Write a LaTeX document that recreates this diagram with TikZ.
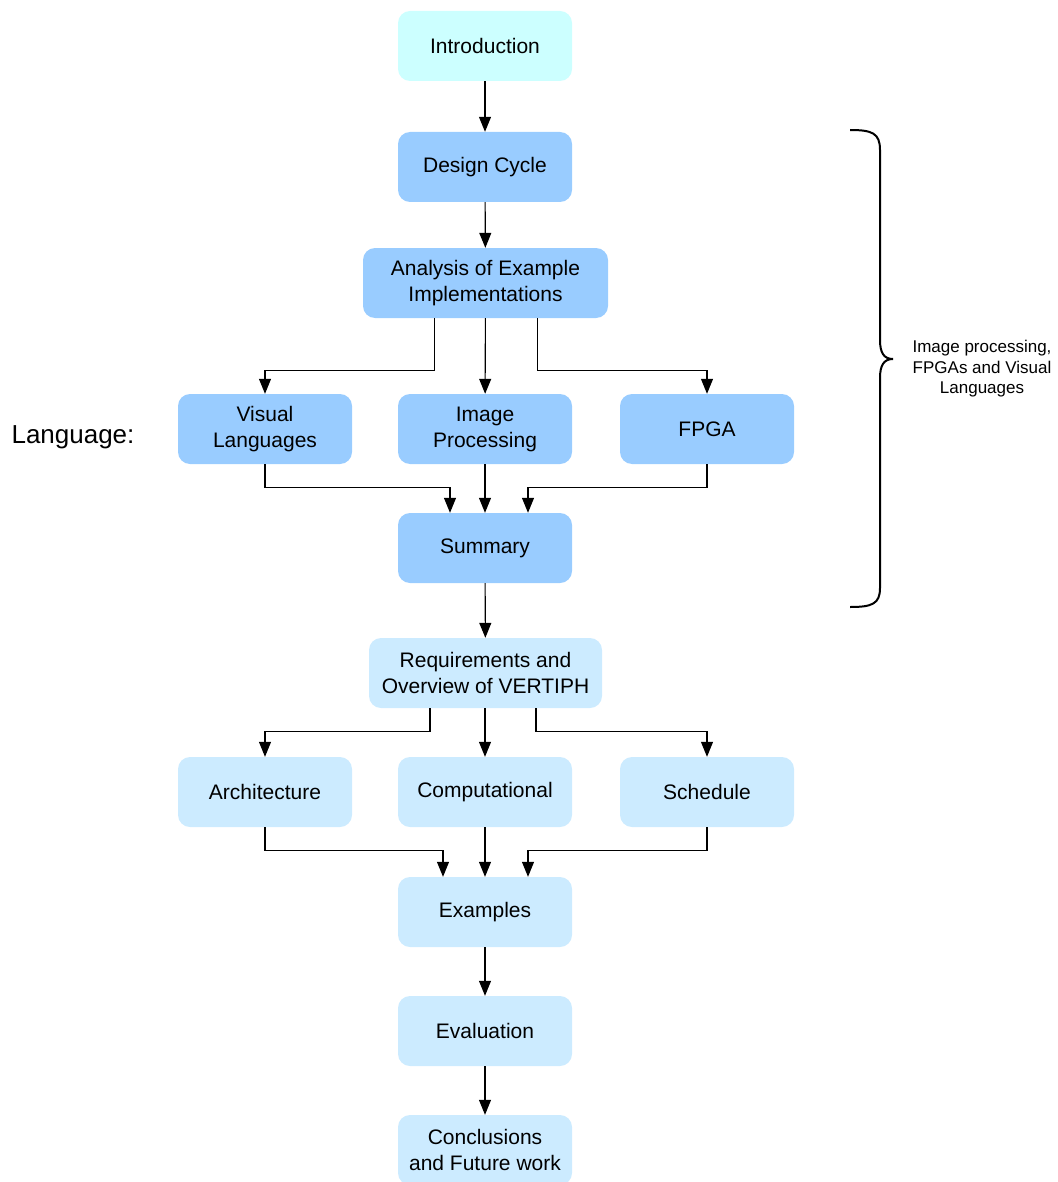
\documentclass[tikz,border=0pt]{standalone}
\usepackage{fontspec}
\setmainfont{Liberation Sans}
\usetikzlibrary{arrows.meta}
\definecolor{cIntro}{HTML}{CCFFFF}
\definecolor{cDark}{HTML}{99CCFF}
\definecolor{cLight}{HTML}{CCEBFF}
\tikzset{
  box/.style={rounded corners=12pt, minimum width=174pt, minimum height=70pt, inner sep=0pt,
    align=center, font=\fontsize{21}{26}\selectfont, draw=none},
  dark/.style={box, fill=cDark},
  light/.style={box, fill=cLight},
  arr/.style={line width=1.1pt, -{Triangle[length=15pt,width=12pt]}},
}
\begin{document}
\begin{tikzpicture}[x=1pt,y=-1pt]
\useasboundingbox (0,0) rectangle (1057,1182);
\clip (0,0) rectangle (1057,1182);
\node[box, fill=cIntro] (intro) at (485,46) {Introduction};
\node[dark] (dc) at (485,167) {Design Cycle};
\node[dark, minimum width=245pt] (ana) at (485.5,283) {Analysis of Example\\Implementations};
\node[dark] (vl) at (265,429) {Visual\\Languages};
\node[dark] (ip) at (485,429) {Image\\Processing};
\node[dark] (fpga) at (707,429) {FPGA};
\node[dark] (sum) at (485,548) {Summary};
\node[light, minimum width=233pt] (req) at (485.5,673) {Requirements and\\Overview of VERTIPH};
\node[light] (arch) at (265,792) {Architecture};
\node[light] (comp) at (485,792) {Computational};
\node[light] (sched) at (707,792) {Schedule};
\node[light] (ex) at (485,912) {Examples};
\node[light] (ev) at (485,1031) {Evaluation};
\node[light] (conc) at (485,1150) {Conclusions\\and Future work};

\node[font=\fontsize{26}{30}\selectfont] (lang) at (73,437) {Language:};
\node[align=center, font=\fontsize{17}{20.5}\selectfont] (bracetxt) at (982,369) {Image processing,\\FPGAs and Visual\\Languages};

\draw[arr] (intro) -- (dc);
\draw[arr] (dc) -- (ana);
\draw[arr] ([xshift=-51pt]ana.south) -- ++(0,52) -| (vl.north);
\draw[arr] (ana) -- (ip);
\draw[arr] ([xshift=52pt]ana.south) -- ++(0,52) -| (fpga.north);
\draw[arr] (vl.south) -- ++(0,23) -| ([xshift=-35pt]sum.north);
\draw[arr] (ip) -- (sum);
\draw[arr] (fpga.south) -- ++(0,23) -| ([xshift=43pt]sum.north);
\draw[arr] (sum) -- (req);
\draw[arr] ([xshift=-55.5pt]req.south) -- ++(0,23) -| (arch.north);
\draw[arr] (req.south -| comp.north) -- (comp.north);
\draw[arr] ([xshift=50.5pt]req.south) -- ++(0,23) -| (sched.north);
\draw[arr] (arch.south) -- ++(0,23) -| ([xshift=-42pt]ex.north);
\draw[arr] (comp) -- (ex);
\draw[arr] (sched.south) -- ++(0,23) -| ([xshift=43pt]ex.north);
\draw[arr] (ex) -- (ev);
\draw[arr] (ev) -- (conc);

\draw[line width=2pt] (850,130) .. controls (872,130) and (880,133) .. (880,150)
  -- (880,340) .. controls (880,353) and (884,359) .. (893,359)
  .. controls (884,359) and (880,365) .. (880,378)
  -- (880,588) .. controls (880,604) and (872,607) .. (850,607);
\end{tikzpicture}
\end{document}
